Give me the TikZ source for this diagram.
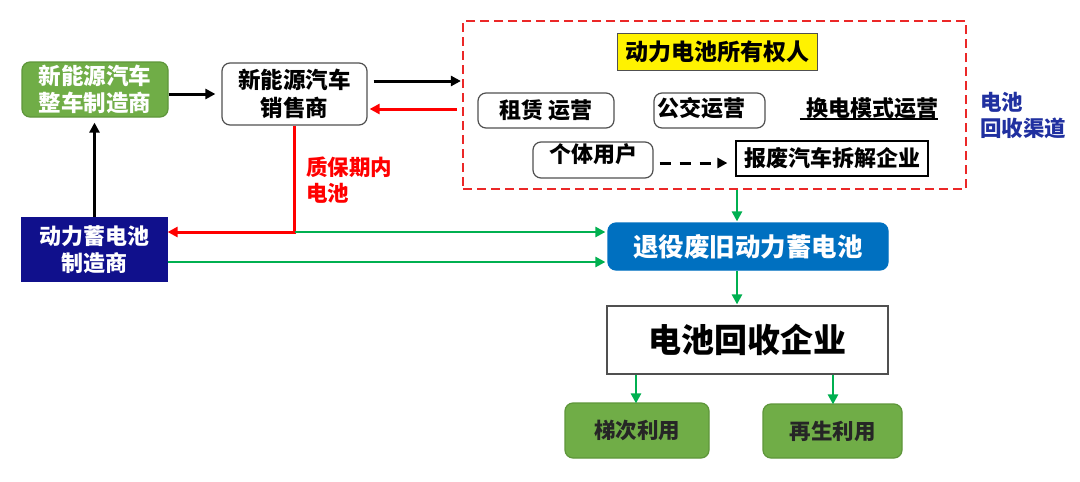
\documentclass[tikz,border=0pt]{standalone}
\usepackage{fontspec}
\setmainfont{Noto Sans CJK SC}
\usetikzlibrary{arrows.meta,calc}
\definecolor{boxgreen}{RGB}{112,173,71}
\definecolor{boxgreenline}{RGB}{94,150,58}
\definecolor{navy}{RGB}{16,16,140}
\definecolor{midblue}{RGB}{0,112,192}
\definecolor{arrgreen}{RGB}{0,176,80}
\definecolor{lblblue}{RGB}{32,48,160}
\definecolor{pptred}{RGB}{255,0,0}
\definecolor{dashred}{RGB}{235,40,40}
\definecolor{bordergray}{RGB}{80,80,80}
\begin{document}
\begin{tikzpicture}[x=1pt,y=-1pt,
  txt/.style={font=\bfseries\fontsize{22}{27}\selectfont},
  box/.style={txt, draw=bordergray, line width=1.2pt, rounded corners=8pt, inner sep=0pt, align=center},
  sqbox/.style={txt, draw=bordergray, line width=1.2pt, inner sep=0pt, align=center},
  greenbox/.style={box, fill=boxgreen, draw=boxgreenline},
  tip/.style={-{Triangle[length=10pt,width=10pt]}},
  blkarr/.style={tip, line width=3pt, black},
  redarr/.style={tip, line width=3pt, pptred},
  grnarr/.style={tip, line width=2.8pt, arrgreen},
]
\useasboundingbox[fill=white] (0,0) rectangle (1080,482);

% left column
\node[greenbox, text=white, minimum width=146pt, minimum height=55pt, font=\bfseries\fontsize{22.5}{27}\selectfont] (oem) at (95,89.5) {新能源汽车\\整车制造商};
\node[box, text=black, minimum width=145pt, minimum height=62pt, font=\bfseries\fontsize{22.5}{28}\selectfont] (dealer) at (294.5,94) {新能源汽车\\销售商};
\node[sqbox, fill=navy, draw=navy, text=white, minimum width=145pt, minimum height=63pt] (bmfr) at (94.5,249.5) {动力蓄电池\\制造商};

% channel frame
\node[draw=dashred, line width=2.2pt, dash pattern=on 9pt off 5pt, minimum width=503pt, minimum height=168pt, inner sep=0pt] (channel) at (714.5,105) {};
\node[sqbox, fill=yellow, draw=bordergray, line width=1pt, minimum width=200pt, minimum height=37pt, font=\bfseries\fontsize{23}{27}\selectfont] (owner) at (717,51.5) {动力电池所有权人};
\node[box, minimum width=136pt, minimum height=35pt] (lease) at (546,110.5) {租赁 运营};
\node[box, minimum width=111pt, minimum height=35pt, text width=105pt, inner xsep=3pt, align=left, text height=14pt, text depth=2pt] (bus) at (709.5,110.5) {公交运营};
\node[txt, inner sep=0pt, minimum width=138pt, minimum height=21pt, text width=138pt, align=right] (swap) at (869,108) {换电模式运营};
\draw[line width=1.5pt, black] (swap.south west) -- (swap.south east);
\node[box, minimum width=120pt, minimum height=36pt, text height=17pt, text depth=12pt, inner ysep=3pt] (ind) at (593,160) {个体用户};
\node[sqbox, draw=black, minimum width=192pt, minimum height=35pt] (scrap) at (832,158.5) {报废汽车拆解企业};
\draw[tip, line width=3pt, black, dash pattern=on 11pt off 9pt] ([xshift=6pt,yshift=-3pt]ind.east) -- ([xshift=-8pt,yshift=-3pt]ind.east -| scrap.west);

\node[txt, text=lblblue, anchor=north west, align=left, inner sep=0pt, font=\bfseries\fontsize{21.5}{26}\selectfont] (chlabel) at (980,92) {电池\\回收渠道};

% lower part
\node[box, fill=midblue, draw=midblue, text=white, minimum width=280pt, minimum height=47pt, font=\bfseries\fontsize{25.5}{30}\selectfont] (retired) at (748,246.5) {退役废旧动力蓄电池};
\node[sqbox, fill=white, minimum width=281pt, minimum height=68pt, font=\bfseries\fontsize{33}{38}\selectfont] (recycler) at (747.5,340) {电池回收企业};
\node[greenbox, text=black!85, minimum width=144pt, minimum height=55pt, font=\bfseries\fontsize{21.5}{26}\selectfont] (cascade) at (637,430.5) {梯次利用};
\node[greenbox, text=black!85, minimum width=139pt, minimum height=54pt, font=\bfseries\fontsize{21.5}{26}\selectfont] (regen) at (832.5,431) {再生利用};

\node[txt, text=pptred, anchor=north west, align=left, inner sep=0pt, font=\bfseries\fontsize{21.5}{26}\selectfont] (warranty) at (306,157) {质保期内\\电池};

% connectors
\draw[blkarr, shorten >=6pt] (oem.east |- 0,94) -- (dealer.west |- 0,94);
\draw[blkarr, shorten >=5pt] (bmfr.north) -- (bmfr.north |- oem.south);
\draw[blkarr, shorten <=6pt, shorten >=1pt] (dealer.east |- 0,81) -- (channel.west |- 0,81);
\draw[redarr, shorten <=5pt, shorten >=2pt] (channel.west |- 0,109) -- (dealer.east |- 0,109);
\coordinate (jn) at (dealer.south |- 0,232);
\draw[redarr] (dealer.south) -- (jn) -- (bmfr.east |- jn);
\draw[grnarr, shorten >=2pt] (jn) -- (retired.west |- jn);
\draw[grnarr, shorten >=2pt] (bmfr.east |- 0,262) -- (retired.west |- 0,262);
\draw[grnarr, shorten >=1pt] (channel.south -| 737,0) -- (retired.north -| 737,0);
\draw[grnarr, shorten >=1pt] (retired.south -| 737,0) -- (recycler.north -| 737,0);
\draw[grnarr, shorten >=-1pt] (recycler.south -| 636,0) -- (cascade.north -| 636,0);
\draw[grnarr, shorten >=-1pt] (recycler.south -| 833,0) -- (regen.north -| 833,0);
\end{tikzpicture}
\end{document}
